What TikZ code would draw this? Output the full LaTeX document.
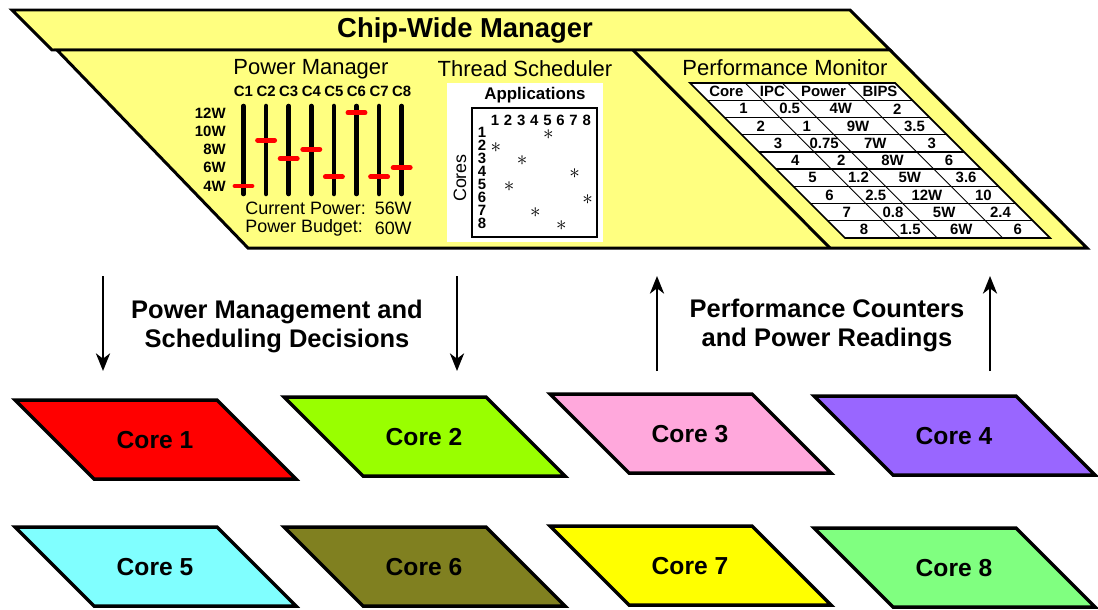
\documentclass[tikz,border=0pt]{standalone}
\usepackage{fontspec}
\setmainfont{Liberation Sans}
\usetikzlibrary{arrows.meta}
\definecolor{chipYellow}{RGB}{255,255,128}
\definecolor{coreRed}{RGB}{255,0,0}
\definecolor{coreLime}{RGB}{153,255,0}
\definecolor{corePink}{RGB}{255,168,220}
\definecolor{corePurple}{RGB}{153,102,255}
\definecolor{coreCyan}{RGB}{128,255,255}
\definecolor{coreOlive}{RGB}{128,128,32}
\definecolor{coreYellow}{RGB}{255,255,0}
\definecolor{coreGreen}{RGB}{128,255,128}
\begin{document}
\begin{tikzpicture}
[x=0.02cm,y=-0.02cm,
  chipDecorate/.style={draw,line width=1.7pt,fill=chipYellow},%
  coreDecorate/.style={draw,line width=2pt},%
  coreLabel/.style={font=\fontsize{14}{16}\selectfont\bfseries},%
  titleText/.style={font=\fontsize{12.5}{14}\selectfont,inner sep=0pt},%
  flowText/.style={font=\fontsize{14.5}{16.5}\selectfont\bfseries,align=center},%
  flowArrow/.style={line width=1.5pt,-{Stealth[length=10pt,width=8pt,inset=3pt]}},%
  sliderBar/.style={line width=2.6pt,line cap=round},%
  sliderMark/.style={line width=2.8pt,red,line cap=round},%
  smallBold/.style={font=\fontsize{8.5}{9}\selectfont\bfseries,inner sep=0pt},%
  plainText/.style={font=\fontsize{10.2}{12}\selectfont,inner sep=0pt},%
  cellText/.style={font=\fontsize{8.5}{9}\selectfont\bfseries,inner sep=0pt}]
\useasboundingbox (0,0) rectangle (1098,609);
%% chip-wide manager
\filldraw[chipDecorate] (12,10) -- (850,10) -- (890,50) -- (52,50) -- cycle;
\filldraw[chipDecorate] (57,50) -- (890,50) -- (1087,248) -- (248,248) -- cycle;
\draw[line width=1.7pt] (633,50) -- (830,248);
\node (chip) at (465,30) [font=\fontsize{15.6}{18}\selectfont\bfseries] {Chip-Wide Manager};
%% power manager
\node (pmTitle) at (311,69) [titleText] {Power Manager};
\foreach \i/\watt in {1/4, 2/9, 3/7, 4/8, 5/5, 6/12, 7/5, 8/6}
{
  \pgfmathsetmacro{\bx}{243.5+22.6*(\i-1)}
  \pgfmathsetmacro{\my}{186-9.15*(\watt-4)}
  \node (c\i) at (\bx,91) [smallBold] {C\i};
  \draw[sliderBar] (\bx,106) -- (\bx,194);
  \draw[sliderMark] (\bx-8.5,\my) -- (\bx+8.5,\my);
}
\foreach \watt in {4,6,...,12}
{
  \pgfmathsetmacro{\my}{186-9.15*(\watt-4)}
  \node (w\watt) at (226,\my) [smallBold,anchor=east] {\watt W};
}
\node (curLabel) at (245,208) [plainText,anchor=west] {Current Power:};
\node (curValue) at (412,208) [plainText,anchor=east] {56W};
\node (budLabel) at (245,228) [plainText,anchor=west] {Power Budget:};
\node (budValue) at (412,228) [plainText,anchor=east] {60W};
%% thread scheduler
\node (tsTitle) at (525,69) [titleText] {Thread Scheduler};
\fill[white] (447,83) rectangle (603,242);
\node (apps) at (535,95) [font=\fontsize{9.6}{11}\selectfont\bfseries,inner sep=0pt] {Applications};
\draw[line width=1.2pt] (472,108) rectangle (597,237);
\node (cores) at (460,178) [plainText,rotate=90] {Cores};
\foreach \k in {1,...,8}
{
  \node (app\k) at (495+13.1*\k-13.1,120) [cellText] {\k};
  \node (row\k) at (482,132+13*\k-13) [cellText] {\k};
}
\foreach \r/\c in {1/5, 2/1, 3/3, 4/7, 5/2, 6/8, 7/4, 8/6}
  \node (star\r) at (496+13.1*\c-13.1,135+13*\r-13) [inner sep=0pt,font=\large] {$\ast$};
%% performance monitor
\node (monTitle) at (785,68) [titleText] {Performance Monitor};
\filldraw[fill=white,line width=1pt] (690,83) -- (895,83) -- (1050,238) -- (845,238) -- cycle;
\foreach \r in {1,...,8}
  \draw[line width=0.8pt] (690+17.22*\r,83+17.22*\r) -- (895+17.22*\r,83+17.22*\r);
\foreach \f in {0.27,0.45,0.77}
  \draw[line width=0.5pt] (690+205*\f,83) -- (845+205*\f,238);
\foreach \r/\c/\ipc/\pw/\bips in {0/Core/IPC/Power/BIPS, 1/1/0.5/4W/2, 2/2/1/9W/3.5,
  3/3/0.75/7W/3, 4/4/2/8W/6, 5/5/1.2/5W/3.6, 6/6/2.5/12W/10, 7/7/0.8/5W/2.4, 8/8/1.5/6W/6}
{
  \pgfmathsetmacro{\ym}{83+17.22*(\r+0.5)}
  \pgfmathsetmacro{\xl}{690+17.22*(\r+0.5)}
  \node (core\r) at (\xl+27.7,\ym) [cellText] {\c};
  \node (ipc\r) at (\xl+73.8,\ym) [cellText] {\ipc};
  \node (power\r) at (\xl+125,\ym) [cellText] {\pw};
  \node (bips\r) at (\xl+181.4,\ym) [cellText] {\bips};
}
%% arrows between manager and cores
\foreach \name/\x in {downA/103, downB/457, upA/657, upB/990}
{
  \coordinate (\name Top) at (\x,276);
  \coordinate (\name Bot) at (\x,371);
}
\draw[flowArrow] (downATop) -- (downABot);
\draw[flowArrow] (downBTop) -- (downBBot);
\draw[flowArrow] (upABot) -- (upATop);
\draw[flowArrow] (upBBot) -- (upBTop);
\node (decisions) at (277,326) [flowText] {Power Management and\\Scheduling Decisions};
\node (readings) at (827,325) [flowText] {Performance Counters\\and Power Readings};
%% cores
\foreach \name/\x/\y/\col/\label in {
  cA/15/400/coreRed/Core 1, cB/284/397/coreLime/Core 2,
  cC/550/394/corePink/Core 3, cD/814/396/corePurple/Core 4,
  cE/15/527/coreCyan/Core 5, cF/284/527/coreOlive/Core 6,
  cG/550/526/coreYellow/Core 7, cH/814/528/coreGreen/Core 8}
{
  \filldraw[coreDecorate,fill=\col] (\x,\y) -- ++(202,0) -- ++(79,79) -- ++(-202,0) -- cycle;
  \node (\name) at (\x+140,\y+40) [coreLabel] {\label};
}
\end{tikzpicture}
\end{document}
